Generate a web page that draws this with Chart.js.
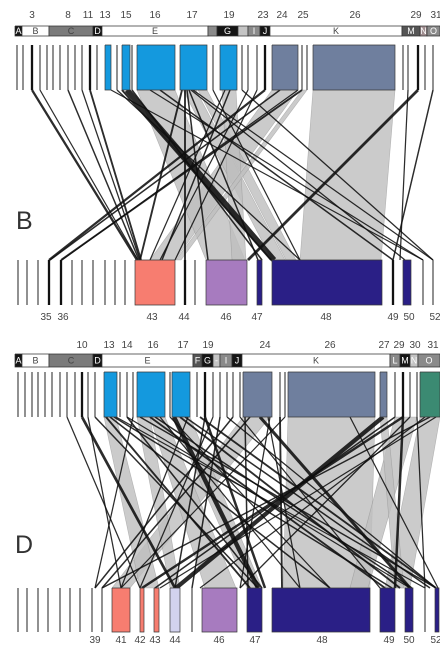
<!DOCTYPE html>
<html><head><meta charset="utf-8">
<script src="https://cdn.jsdelivr.net/npm/chart.js@4.4.1/dist/chart.umd.min.js"></script>
<style>html,body{margin:0;padding:0;background:#fff;overflow:hidden}#wrap{width:440px;height:648px}</style>
</head><body><div id="wrap"><canvas id="c" width="440" height="648"></canvas></div>
<script>
// ---------- DATA : panel B ----------
const bHeaderLabels = [['3',32],['8',68],['11',88],['13',105],['15',126],['16',155],['17',192],['19',229],['23',263],['24',282],['25',303],['26',355],['29',416],['31',436]];
const bGroups = [['A',15,22],['B',22,49],['C',49,93],['D',93,102],['E',102,208],['',208,217],['G',217,238],['',238,248],['I',248,260],['J',260,270],['K',270,402],['M',402,420],['N',420,427],['O',427,440]];
const bGroupTone = ['k','w','g','k','w','g2','k','l','g2','k','w','g3','p','g2'];
const bTopThin = [17,23,40,47,53,60,68,75,82,97,117,132,213,242,248,257,302,307,403,408,425,433];
const bTopThick = [32,90,265,418];
const bTopRects = [[105,111,'blue'],[122,130,'blue'],[137,175,'blue'],[180,207,'blue'],[220,237,'blue'],[272,298,'slate'],[313,395,'slate']];
const bBotThin = [18,27,38,72,82,93,105,115,125,195,423,433];
const bBotThick = [49,61,185,393];
const bBotRects = [[135,175,'salmon'],[206,247,'purple'],[257,262,'navy'],[272,382,'navy'],[403,411,'navy']];
const bBotLabels = [['35',46],['36',63],['43',152],['44',184],['46',226],['47',257],['48',326],['49',393],['50',409],['52',435]];
const bBands = [[313,395,300,381],[272,298,150,175],[137,175,206,245],[183,196,272,285],[198,207,286,296],[222,236,232,246],[302,307,176,181]];
const bLinks = [[32,137,1.8],[40,138,1],[68,139,1.2],[82,140,1],[90,141,1.5],[127,274,4.5],[122,271,1.5],[117,300,1],[132,262,1.2],[111,423,1],[182,140,1.5],[185,185,1.5],[187,208,1.2],[189,258,1.2],[191,405,1],[193,433,1],[160,393,1.2],[150,423,1],[213,300,1],[225,150,1],[230,162,1.2],[242,433,1],[248,160,1],[265,49,1.8],[280,50,1.2],[302,61,1.5],[298,62,1],[418,248,2.2],[433,393,1.2],[408,400,1],[257,175,1]];

// ---------- DATA : panel D ----------
const dHeaderLabels = [['10',82],['13',109],['14',127],['16',153],['17',183],['19',208],['24',265],['26',330],['27',384],['29',399],['30',415],['31',433]];
const dGroups = [['A',15,22],['B',22,49],['C',49,93],['D',93,102],['E',102,193],['F',193,202],['G',202,213],['-',213,220],['I',220,232],['J',232,242],['K',242,390],['L',390,400],['M',400,410],['N',410,418],['O',418,440]];
const dGroupTone = ['k','w','g','k','w','g3','k','l','g2','k','w','g2','k','l','g2'];
const dTopThin = [18,25,32,38,45,52,60,67,75,88,95,120,127,133,170,197,213,220,227,233,240,280,285,395,410,417];
const dTopThick = [82,205,403];
const dTopRects = [[104,117,'blue'],[137,165,'blue'],[172,190,'blue'],[243,272,'slate'],[288,375,'slate'],[380,387,'slate'],[420,440,'green']];
const dBotThin = [18,27,38,48,60,70,80,92,102,192,425];
const dBotThick = [];
const dBotRects = [[112,130,'salmon'],[140,144,'salmon'],[154,159,'salmon'],[170,180,'lav'],[202,237,'purple'],[247,262,'navy'],[272,370,'navy'],[380,395,'navy'],[405,413,'navy'],[435,439,'navy']];
const dBotLabels = [['39',95],['41',121],['42',140],['43',155],['44',175],['46',219],['47',255],['48',322],['49',389],['50',409],['52',436]];
const dBands = [[288,375,283,370],[420,440,385,410],[243,270,112,130],[137,150,170,180],[150,165,205,236],[172,190,247,262],[104,116,140,159],[395,417,350,368],[380,387,395,404]];
const dLinks = [[82,175,2.2],[88,121,1],[95,258,1.2],[67,140,1],[106,250,1.5],[110,330,1.2],[114,392,1.2],[116,425,1],[127,262,1.2],[127,410,1],[133,95,1],[140,436,1.2],[150,385,1.5],[160,300,1],[174,258,3.5],[180,400,1.5],[185,430,1.2],[188,121,1],[205,265,2],[205,175,1.2],[213,140,1],[220,192,1.2],[227,436,1],[233,95,1.2],[240,380,1],[250,102,1.2],[260,410,2.5],[268,300,1],[280,282,1.5],[285,121,1],[383,176,3.5],[395,155,1.2],[403,142,2],[403,395,2],[410,240,1],[417,425,1],[425,200,1],[430,102,1.2],[436,160,1],[200,436,1.5],[155,412,1.2],[170,330,1],[245,248,1.2],[270,240,1],[350,438,1]];

// ---------- layout & style (not data) ----------
const LINK_SCALE = 1.25;
const PAL = {blue:'#1499de', slate:'#6f7f9e', salmon:'#f77d70', purple:'#a77bbf', navy:'#2a1f86', green:'#3b8a72', lav:'#d2d2ee',
  k:'#151515', w:'#ffffff', g:'#7b7b7b', g2:'#8a8a8a', g3:'#555555', l:'#c4c4c4', p:'#a08e90'};
const panels = [
  {hdr:bHeaderLabels, groups:bGroups, tone:bGroupTone, topThin:bTopThin, topThick:bTopThick, topRects:bTopRects, botThin:bBotThin, botThick:bBotThick, botRects:bBotRects, botLabels:bBotLabels, bands:bBands, links:bLinks,
   y:{hdr:15, g0:26, g1:36, t0:45, t1:90, b0:260, b1:305, lab:317}, letter:['B',16,222]},
  {hdr:dHeaderLabels, groups:dGroups, tone:dGroupTone, topThin:dTopThin, topThick:dTopThick, topRects:dTopRects, botThin:dBotThin, botThick:dBotThick, botRects:dBotRects, botLabels:dBotLabels, bands:dBands, links:dLinks,
   y:{hdr:345, g0:354, g1:367, t0:372, t1:417, b0:588, b1:632, lab:640}, letter:['D',15,546]}
];

const datasets = [];
function shape(pts, fill, stroke, bw){
  datasets.push({data: pts.map(p=>({x:p[0], y:p[1]})), showLine:true, fill: fill ? 'shape' : false,
    backgroundColor: fill || 'rgba(0,0,0,0)', borderColor: stroke || 'rgba(0,0,0,0)', borderWidth: bw || 0,
    pointRadius:0, pointHoverRadius:0, tension:0, borderJoinStyle:'miter'});
}
function rect(x0,x1,y0,y1,fill,stroke,bw){ shape([[x0,y0],[x1,y0],[x1,y1],[x0,y1],[x0,y0]], fill, stroke, bw); }

panels.forEach(P=>{
  const Y = P.y;
  P.bands.forEach(b=> shape([[b[0],Y.t1],[b[1],Y.t1],[b[3],Y.b0],[b[2],Y.b0],[b[0],Y.t1]], 'rgba(192,192,192,0.82)', 'rgba(140,140,140,0.55)', 0.6));
  P.links.forEach(l=> shape([[l[0],Y.t1],[l[1],Y.b0]], null, 'rgba(15,15,15,0.88)', l[2]*LINK_SCALE));
  P.groups.forEach((g,i)=> rect(g[1],g[2],Y.g0,Y.g1, PAL[P.tone[i]], '#333', 0.7));
  P.topThin.forEach(x=> shape([[x,Y.t0],[x,Y.t1]], null, '#555', 1.3));
  P.topThick.forEach(x=> shape([[x,Y.t0],[x,Y.t1]], null, '#111', 2.3));
  P.topRects.forEach(r=> rect(r[0],r[1],Y.t0,Y.t1, PAL[r[2]], '#3a3a3a', 0.7));
  P.botThin.forEach(x=> shape([[x,Y.b0],[x,Y.b1]], null, '#555', 1.3));
  P.botThick.forEach(x=> shape([[x,Y.b0],[x,Y.b1]], null, '#111', 2.3));
  P.botRects.forEach(r=> rect(r[0],r[1],Y.b0,Y.b1, PAL[r[2]], '#3a3a3a', 0.7));
});
datasets.forEach((d,i)=> d.order = -i);

const textPlugin = {id:'txt', afterDatasetsDraw(chart){
  const {ctx, scales:{x, y}} = chart;
  ctx.save();
  ctx.textAlign='center'; ctx.textBaseline='middle';
  panels.forEach(P=>{
    const Y = P.y;
    ctx.font = '10px "Liberation Sans", Arial, sans-serif'; ctx.fillStyle='#444';
    P.hdr.forEach(h=> ctx.fillText(h[0], x.getPixelForValue(h[1]), y.getPixelForValue(Y.hdr)));
    P.botLabels.forEach(h=> ctx.fillText(h[0], x.getPixelForValue(h[1]), y.getPixelForValue(Y.lab)));
    ctx.font = '9px "Liberation Sans", Arial, sans-serif';
    P.groups.forEach((g,i)=>{
      const t = P.tone[i];
      ctx.fillStyle = (t==='w' || t==='g') ? '#444' : '#fff';
      ctx.fillText(g[0], x.getPixelForValue((g[1]+g[2])/2), y.getPixelForValue((Y.g0+Y.g1)/2)+0.5);
    });
    ctx.font = '25px "Liberation Sans", Arial, sans-serif'; ctx.fillStyle='#333'; ctx.textAlign='left';
    ctx.fillText(P.letter[0], x.getPixelForValue(P.letter[1]), y.getPixelForValue(P.letter[2]));
    ctx.textAlign='center';
  });
  ctx.restore();
}};

new Chart(document.getElementById('c'), {
  type:'scatter',
  data:{datasets},
  options:{responsive:false, animation:false, events:[], devicePixelRatio:2,
    layout:{padding:0},
    scales:{x:{type:'linear', min:0, max:440, display:false}, y:{type:'linear', min:0, max:648, reverse:true, display:false}},
    plugins:{legend:{display:false}, tooltip:{enabled:false}}},
  plugins:[textPlugin]
});
</script></body></html>
